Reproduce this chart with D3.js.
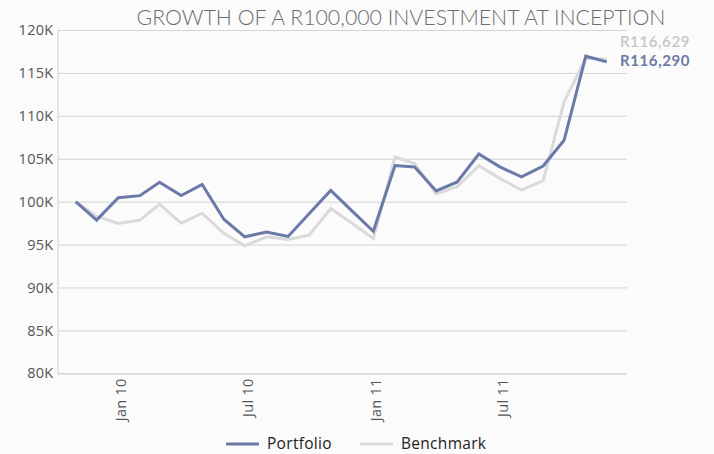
<!DOCTYPE html>
<html>
<head>
<meta charset="utf-8">
<script src="https://cdn.jsdelivr.net/npm/d3@7"></script>
<style>
  html, body { margin: 0; padding: 0; background: #fbfbfb; }
  svg { display: block; }
</style>
</head>
<body>
<svg id="chart" width="714" height="454"></svg>
<script>
// Month-end dates, Oct 2009 .. Nov 2011
const months = ["2009-10-31","2009-11-30","2009-12-31","2010-01-31","2010-02-28","2010-03-31","2010-04-30","2010-05-31","2010-06-30","2010-07-31","2010-08-31","2010-09-30","2010-10-31","2010-11-30","2010-12-31","2011-01-31","2011-02-28","2011-03-31","2011-04-30","2011-05-31","2011-06-30","2011-07-31","2011-08-31","2011-09-30","2011-10-31","2011-11-30"];
const portfolio = [100000,97850,100450,100700,102250,100700,102000,97950,95900,96450,95950,98600,101300,98950,96550,104200,104050,101250,102300,105550,104050,102900,104150,107150,116950,116290];
const benchmark = [100000,98300,97450,97850,99700,97500,98650,96300,94850,95900,95600,96100,99200,97500,95700,105200,104450,100900,101750,104200,102700,101350,102450,111600,116700,116629];
const yTicks = [80000,85000,90000,95000,100000,105000,110000,115000,120000];
const xTickDates = ["2010-01-01","2010-07-01","2011-01-01","2011-07-01"];
const seriesNames = ["Portfolio","Benchmark"];
const seriesColors = ["#6b79a8","#dadada"];
const title = "GROWTH OF A R100,000 INVESTMENT AT INCEPTION";

const parse = d3.utcParse("%Y-%m-%d");
const dates = months.map(parse);
const svg = d3.select("#chart");
const font = "Lato, 'Open Sans', sans-serif";
const font2 = "'Open Sans', sans-serif";

const x = d3.scaleUtc()
  .domain([parse("2009-10-05"), parse("2011-12-29")])
  .range([57.5, 627]);
const y = d3.scaleLinear().domain([80000, 120000]).range([373.3, 30]);

// title
svg.append("text")
  .attr("x", 401).attr("y", 25)
  .attr("text-anchor", "middle")
  .attr("font-family", font).attr("font-weight", 300)
  .attr("font-size", 21.3).attr("fill", "#6c6c6c")
  .text(title);

// y axis with gridlines
const yAxis = svg.append("g")
  .attr("transform", "translate(57.5,0)")
  .call(d3.axisLeft(y).tickValues(yTicks).tickSize(-(627 - 57.5)).tickPadding(4)
    .tickFormat(d => (d / 1000) + "K"));
yAxis.select(".domain").attr("stroke", "#cfcfcf");
yAxis.selectAll(".tick line").attr("stroke", "#d4d4d4");
yAxis.selectAll(".tick text")
  .attr("font-family", font2).attr("font-size", 14.5).attr("fill", "#555")
  .attr("letter-spacing", "0.3px");

// x axis labels
const xAxis = svg.append("g")
  .attr("transform", "translate(0,373.3)")
  .call(d3.axisBottom(x).tickValues(xTickDates.map(parse)).tickSize(0)
    .tickFormat(d3.utcFormat("%b %y")));
xAxis.select(".domain").remove();
xAxis.selectAll(".tick text")
  .attr("font-family", font2).attr("font-size", 14.5).attr("fill", "#555")
  .attr("letter-spacing", "0.3px")
  .attr("transform", "rotate(-90)")
  .attr("text-anchor", "end")
  .attr("x", -5).attr("y", 0).attr("dy", "0.45em");

// lines
const line = d3.line().x((d, i) => x(dates[i])).y(d => y(d));
const allSeries = [benchmark, portfolio];
const allColors = [seriesColors[1], seriesColors[0]];
allSeries.forEach((s, k) => {
  svg.append("path")
    .attr("d", line(s))
    .attr("fill", "none")
    .attr("stroke", allColors[k])
    .attr("stroke-width", 3)
    .attr("stroke-linejoin", "miter");
});

// end labels
const fmt = v => "R" + d3.format(",")(v);
svg.append("text")
  .attr("x", 620).attr("y", y(benchmark[benchmark.length - 1]) - 17.5)
  .attr("dy", "0.35em")
  .attr("font-family", font).attr("font-size", 15).attr("font-weight", 600)
  .attr("letter-spacing", "0.6px")
  .attr("fill", "#c6c6c6")
  .text(fmt(benchmark[benchmark.length - 1]));
svg.append("text")
  .attr("x", 620).attr("y", y(portfolio[portfolio.length - 1]) - 1.5)
  .attr("dy", "0.35em")
  .attr("font-family", font).attr("font-size", 15).attr("font-weight", 700)
  .attr("letter-spacing", "0.6px")
  .attr("fill", "#6b79a8")
  .text(fmt(portfolio[portfolio.length - 1]));

// legend
const legendX = [226, 360];
seriesNames.forEach((name, i) => {
  const g = svg.append("g").attr("transform", `translate(${legendX[i]},444)`);
  g.append("line").attr("x1", 0).attr("x2", 33).attr("y1", 0).attr("y2", 0)
    .attr("stroke", seriesColors[i]).attr("stroke-width", 3);
  g.append("text").attr("x", 41).attr("y", 0).attr("dy", "0.35em")
    .attr("font-family", font2).attr("font-size", 15.5).attr("fill", "#222")
    .attr("letter-spacing", "0.3px")
    .text(name);
});
</script>
</body>
</html>
